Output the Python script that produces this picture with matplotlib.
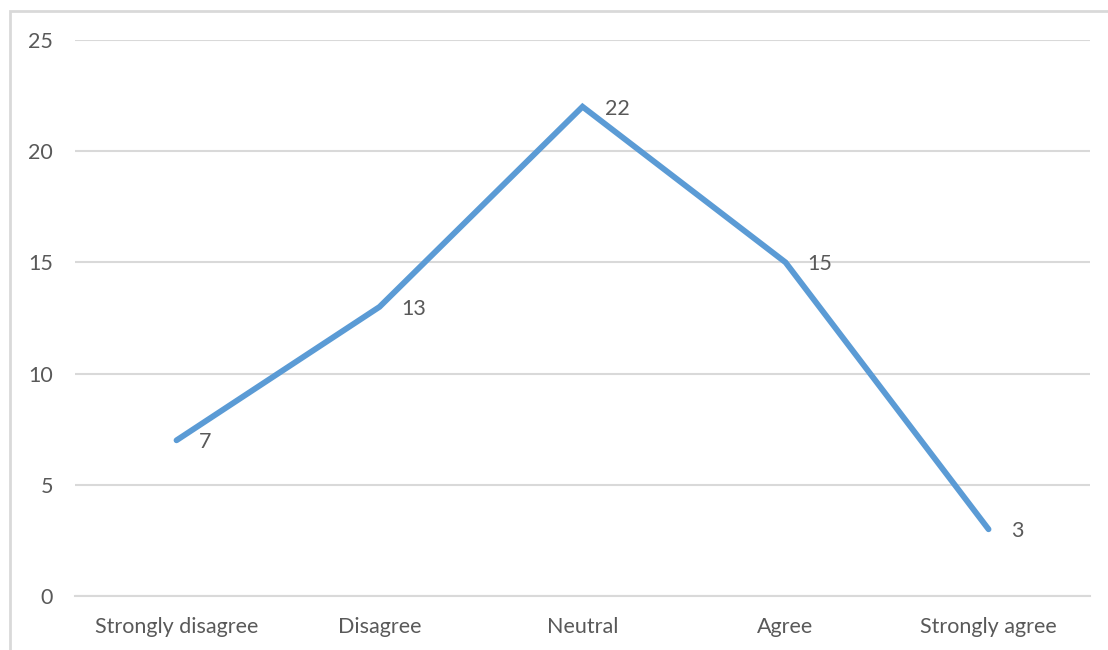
import matplotlib.pyplot as plt
from matplotlib.patches import Rectangle

categories = ["Strongly disagree", "Disagree", "Neutral", "Agree", "Strongly agree"]
counts = [7, 13, 22, 15, 3]
y_ticks = [0, 5, 10, 15, 20, 25]

text_color = "#595959"
grid_color = "#d9d9d9"
line_color = "#5b9bd5"

plt.rcParams['font.family'] = ['Lato', 'DejaVu Sans']

fig = plt.figure(figsize=(11.08, 6.5), dpi=100)
ax = fig.add_axes([0.0677, 0.0831, 0.9161, 0.8554])

# chart border, cut off at the right and bottom
fig.patches.append(Rectangle((10 / 1108, -0.1), 1.2, 1 - 11 / 650 + 0.1,
                             transform=fig.transFigure, fill=False,
                             edgecolor=grid_color, linewidth=2))

x = range(len(categories))
ax.plot(x, counts, color=line_color, linewidth=4.2, solid_capstyle='round',
        solid_joinstyle='miter', zorder=3)

for xi, v in zip(x, counts):
    ax.annotate(str(v), xy=(xi, v), xytext=(16, -1.5), textcoords="offset points",
                ha='left', va='center', fontsize=15.5, color=text_color)

ax.set_xlim(-0.5, len(categories) - 0.5)
ax.set_ylim(0, 25)
ax.set_yticks(y_ticks)
ax.set_xticks(list(x))
ax.set_xticklabels(categories)
ax.grid(axis='y', color=grid_color, linewidth=1.5)
ax.set_axisbelow(True)
for side in ['top', 'right', 'left']:
    ax.spines[side].set_visible(False)
ax.spines['bottom'].set_color(grid_color)
ax.spines['bottom'].set_linewidth(1.5)
ax.tick_params(axis='both', length=0, labelsize=15.5, labelcolor=text_color)
ax.tick_params(axis='y', pad=16)
ax.tick_params(axis='x', pad=15)

fig.savefig("out.png", dpi=100)
